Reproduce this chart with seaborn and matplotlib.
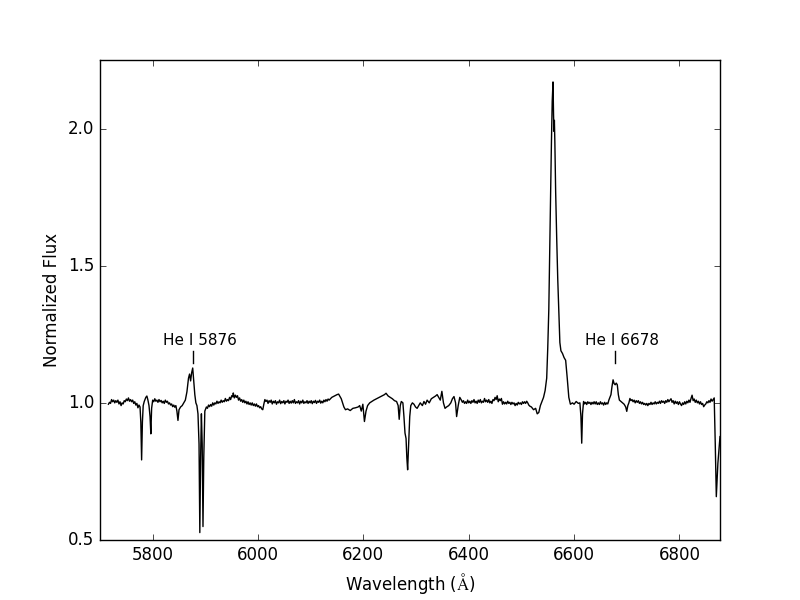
"""
plot.py
-------
Normalised optical spectrum with He I lines marked.
"""

import matplotlib
matplotlib.use("Agg")
import matplotlib.pyplot as plt
import numpy as np
import seaborn as sns


# Spectrum pieces (wavelength in Angstrom, normalised flux)
wave_blue = [5716, 5718, 5720, 5722, 5724, 5726, 5728, 5730, 5732, 5734,
             5736, 5738, 5740, 5742, 5744, 5746, 5748, 5750, 5752, 5754,
             5756, 5758, 5760, 5762, 5764, 5766, 5768, 5770, 5772, 5774,
             5776, 5777.5, 5779, 5780.5, 5782, 5784, 5787, 5789, 5791, 5793,
             5795, 5796.5, 5798, 5800, 5802, 5804, 5806, 5808, 5810, 5812,
             5814, 5816, 5818, 5820, 5822, 5824, 5826, 5828, 5830, 5832,
             5834, 5836, 5838, 5840, 5842, 5844, 5846, 5848, 5850, 5853,
             5856, 5859, 5862, 5865, 5868, 5870, 5872, 5874, 5876, 5878,
             5880, 5882, 5884, 5886, 5888, 5889.5, 5891, 5892.5, 5894, 5895.5,
             5897, 5899]
flux_blue = [0.995, 1.002, 0.998, 1.012, 1.004, 1.010, 1.000, 1.008, 1.002, 1.010,
             0.996, 1.004, 0.990, 1.000, 0.996, 1.008, 1.004, 1.014, 1.008, 1.018,
             1.006, 1.012, 1.004, 1.010, 0.998, 1.004, 0.992, 0.998, 0.982, 0.992,
             0.985, 0.930, 0.792, 0.930, 0.990, 1.005, 1.020, 1.025, 1.010, 0.990,
             0.950, 0.887, 0.980, 1.010, 1.004, 1.015, 1.006, 1.010, 1.002, 1.012,
             1.004, 1.009, 1.000, 1.006, 0.998, 1.010, 1.002, 1.006, 0.996, 1.000,
             0.992, 0.996, 0.986, 0.992, 0.984, 0.990, 0.970, 0.936, 0.975, 0.985,
             0.990, 1.000, 1.010, 1.040, 1.090, 1.105, 1.080, 1.110, 1.127, 1.080,
             1.030, 1.000, 0.990, 0.960, 0.850, 0.527, 0.800, 0.960, 0.850, 0.549,
             0.800, 0.970]

wave_mid = [5902, 5904, 5906, 5908, 5910, 5912, 5914, 5916, 5918, 5920,
            5922, 5924, 5926, 5928, 5930, 5932, 5934, 5936, 5938, 5940,
            5942, 5944, 5946, 5948, 5950, 5952, 5953, 5955, 5957, 5959,
            5961, 5963, 5965, 5967, 5969, 5971, 5973, 5975, 5977, 5979,
            5981, 5983, 5985, 5987, 5989, 5991, 5993, 5995, 5997, 5999,
            6001, 6003, 6005, 6007, 6009, 6011, 6013, 6015, 6017, 6019,
            6021, 6023, 6025, 6027, 6029, 6031, 6033, 6035, 6037, 6039,
            6041, 6043, 6045, 6047, 6049, 6051, 6053, 6055, 6057, 6059,
            6061, 6063, 6065, 6067, 6069, 6071, 6073, 6075, 6077, 6079,
            6081, 6083, 6085, 6087, 6089, 6091, 6093, 6095, 6097, 6099,
            6101, 6103, 6105, 6107, 6109, 6111, 6113, 6115, 6117, 6119,
            6121, 6123, 6125, 6127, 6129, 6131, 6133, 6135, 6140, 6145,
            6150, 6153, 6158, 6163, 6166, 6170, 6175, 6180, 6185, 6190,
            6193, 6196, 6199, 6202, 6205, 6208, 6212, 6216, 6220, 6225,
            6230, 6235, 6240, 6243, 6247, 6251, 6255, 6259, 6263, 6266,
            6268, 6270, 6272, 6275, 6277, 6279, 6281, 6282.5, 6284, 6286,
            6288, 6290, 6293, 6296, 6299]
flux_mid = [0.985, 0.980, 0.992, 0.986, 0.994, 0.988, 1.000, 0.992, 1.000, 0.996,
            1.006, 0.998, 1.004, 1.000, 1.010, 1.002, 1.008, 1.004, 1.016, 1.006,
            1.012, 1.008, 1.020, 1.012, 1.026, 1.022, 1.036, 1.018, 1.028, 1.020,
            1.026, 1.010, 1.018, 1.006, 1.012, 1.002, 1.010, 1.000, 1.006, 0.996,
            1.004, 0.994, 1.000, 0.992, 1.000, 0.990, 0.996, 0.988, 0.996, 0.986,
            0.990, 0.982, 0.986, 0.978, 0.975, 0.995, 1.012, 1.005, 1.010, 0.998,
            1.008, 1.002, 1.010, 0.996, 1.006, 1.000, 1.008, 0.995, 1.004, 1.000,
            1.010, 0.997, 1.005, 1.000, 1.008, 0.996, 1.006, 1.002, 1.010, 0.998,
            1.006, 0.999, 1.008, 1.000, 1.012, 0.998, 1.004, 1.000, 1.008, 0.996,
            1.006, 1.000, 1.010, 0.998, 1.004, 1.000, 1.008, 0.998, 1.006, 1.000,
            1.008, 0.997, 1.006, 1.001, 1.009, 0.998, 1.006, 1.002, 1.010, 0.999,
            1.006, 1.000, 1.010, 1.004, 1.012, 1.006, 1.014, 1.010, 1.020, 1.025,
            1.030, 1.032, 1.015, 0.985, 0.975, 0.978, 0.972, 0.980, 0.982, 0.985,
            0.990, 0.970, 0.995, 0.932, 0.970, 0.990, 1.000, 1.005, 1.010, 1.015,
            1.020, 1.025, 1.030, 1.035, 1.025, 1.020, 1.015, 1.008, 1.005, 0.990,
            0.940, 0.990, 1.005, 1.000, 0.950, 0.890, 0.870, 0.800, 0.756, 0.850,
            0.950, 0.990, 1.000, 0.995, 0.985]

wave_red = [6302, 6305, 6308, 6312, 6315, 6318, 6321, 6325, 6329, 6333,
            6337, 6340, 6343, 6346, 6349, 6352, 6355, 6358, 6362, 6366,
            6369, 6372, 6375, 6377, 6380, 6383, 6386, 6388, 6390, 6392,
            6394, 6396, 6398, 6400, 6402, 6404, 6406, 6408, 6410, 6412,
            6414, 6416, 6418, 6420, 6422, 6424, 6426, 6428, 6430, 6432,
            6434, 6436, 6438, 6440, 6442, 6444, 6446, 6448, 6450, 6452,
            6454, 6456, 6458, 6460, 6462, 6464, 6466, 6468, 6470, 6472,
            6474, 6476, 6478, 6480, 6482, 6484, 6486, 6488, 6490, 6492,
            6494, 6496, 6498, 6500, 6502, 6504, 6506, 6508, 6510, 6512,
            6514, 6516, 6519, 6523, 6527, 6530, 6533, 6536, 6539, 6542,
            6545]
flux_red = [0.980, 0.990, 1.000, 0.990, 1.005, 0.995, 1.010, 1.000, 1.015, 1.020,
            1.025, 1.030, 1.020, 1.010, 1.042, 1.000, 0.980, 0.985, 0.990, 1.000,
            1.015, 1.023, 1.000, 0.950, 0.990, 1.020, 1.010, 1.002, 1.008, 0.998,
            1.004, 0.998, 1.010, 1.000, 1.006, 0.998, 1.008, 1.002, 1.012, 1.000,
            1.006, 0.998, 1.010, 1.002, 1.012, 1.000, 1.006, 1.002, 1.016, 1.004,
            1.010, 1.002, 1.012, 1.000, 1.006, 0.998, 1.012, 1.008, 1.020, 1.012,
            1.026, 1.004, 1.014, 1.008, 1.016, 0.995, 1.004, 0.996, 1.002, 0.996,
            1.006, 0.998, 1.002, 0.994, 1.002, 0.996, 1.000, 0.990, 0.998, 0.992,
            1.002, 0.996, 1.000, 0.994, 1.004, 0.998, 1.004, 0.998, 1.006, 1.000,
            0.992, 0.988, 0.985, 0.975, 0.980, 0.960, 0.965, 0.990, 1.005, 1.020,
            1.045]

# H-alpha emission
wave_ha = [6548, 6550, 6552, 6554, 6555.5, 6557, 6558.5, 6560, 6561, 6561.8,
           6562.6, 6563.5, 6565, 6567, 6569, 6571, 6573, 6575, 6578, 6581,
           6584, 6587, 6590, 6593]
flux_ha = [1.090, 1.200, 1.340, 1.600, 1.770, 1.950, 2.100, 2.170, 2.050, 1.990,
           2.030, 1.950, 1.770, 1.600, 1.450, 1.330, 1.220, 1.190, 1.180, 1.165,
           1.155, 1.090, 1.020, 0.995]

wave_far = [6597, 6600, 6604, 6608, 6611, 6613, 6614.5, 6616, 6618, 6620,
            6622, 6624, 6626, 6628, 6630, 6632, 6634, 6636, 6638, 6640,
            6642, 6644, 6646, 6648, 6650, 6652, 6654, 6656, 6658, 6660,
            6662, 6664, 6666, 6668, 6670, 6672, 6674, 6676, 6678, 6680,
            6682, 6684, 6686, 6689, 6692, 6695, 6698, 6700, 6702, 6704,
            6706, 6708, 6710, 6712, 6714, 6716, 6718, 6720, 6722, 6724,
            6726, 6728, 6730, 6732, 6734, 6736, 6738, 6740, 6742, 6744,
            6746, 6748, 6750, 6752, 6754, 6756, 6758, 6760, 6762, 6764,
            6766, 6768, 6770, 6772, 6774, 6776, 6778, 6780, 6782, 6784,
            6786, 6788, 6790, 6792, 6794, 6796, 6798, 6800, 6802, 6804,
            6806, 6808, 6810, 6812, 6814, 6816, 6818, 6820, 6822, 6824,
            6826, 6828, 6830, 6832, 6834, 6836, 6838, 6840, 6842, 6844,
            6846, 6848, 6850, 6852, 6854, 6856, 6858, 6860, 6862, 6864,
            6866, 6868, 6870, 6873, 6877]
flux_far = [1.000, 0.995, 1.005, 0.998, 1.000, 0.950, 0.853, 0.960, 1.005, 0.996,
            1.002, 0.994, 1.004, 0.998, 1.002, 0.994, 1.002, 0.996, 1.004, 0.996,
            1.004, 0.994, 1.000, 0.994, 1.004, 0.996, 1.000, 0.992, 1.002, 0.994,
            1.000, 0.996, 1.010, 1.020, 1.030, 1.060, 1.084, 1.070, 1.066, 1.072,
            1.066, 1.030, 1.010, 1.005, 1.000, 0.995, 0.985, 0.969, 0.990, 1.000,
            1.016, 1.008, 1.012, 1.004, 1.010, 1.000, 1.008, 1.002, 1.008, 0.998,
            1.004, 0.996, 1.002, 0.994, 0.998, 0.992, 0.998, 0.990, 0.998, 0.994,
            1.002, 0.994, 1.000, 0.996, 1.004, 0.996, 1.002, 0.998, 1.006, 0.998,
            1.008, 1.002, 1.006, 0.998, 1.008, 1.002, 1.012, 1.004, 1.010, 1.015,
            1.002, 1.008, 0.996, 1.006, 0.998, 1.004, 0.994, 1.004, 0.996, 0.990,
            1.000, 0.994, 1.004, 0.996, 1.006, 1.000, 1.010, 1.002, 1.016, 1.028,
            1.008, 1.014, 1.002, 1.010, 1.000, 1.006, 0.996, 1.004, 0.994, 0.998,
            0.986, 0.992, 0.996, 1.004, 1.000, 1.008, 1.002, 1.014, 1.006, 1.012,
            1.018, 0.850, 0.658, 0.780, 0.877]

# Line markers
LINE_NAMES = ["He I 5876", "He I 6678"]
LINE_WAVES = [5876, 6678]


wave = np.concatenate([wave_blue, wave_mid, wave_red, wave_ha, wave_far])
flux = np.concatenate([flux_blue, flux_mid, flux_red, flux_ha, flux_far])

plt.style.use("classic")
fig, ax = plt.subplots(figsize=(8, 6), dpi=100)
fig.patch.set_facecolor("white")

sns.lineplot(x=wave, y=flux, sort=False, estimator=None, color="k", lw=1, ax=ax)

for name, lam in zip(LINE_NAMES, LINE_WAVES):
    ax.plot([lam, lam], [1.145, 1.19], color="k", lw=1)
    ax.text(lam + 13, 1.2, name, ha="center", va="bottom", fontsize=11)

ax.set_xlim(5700, 6877)
ax.set_ylim(0.5, 2.25)
ax.set_xticks([5800, 6000, 6200, 6400, 6600, 6800])
ax.set_yticks([0.5, 1.0, 1.5, 2.0])
ax.set_xlabel(r"Wavelength ($\mathrm{\AA}$)")
ax.set_ylabel("Normalized Flux")

fig.savefig("out.png", dpi=100, facecolor="white")
plt.close(fig)
